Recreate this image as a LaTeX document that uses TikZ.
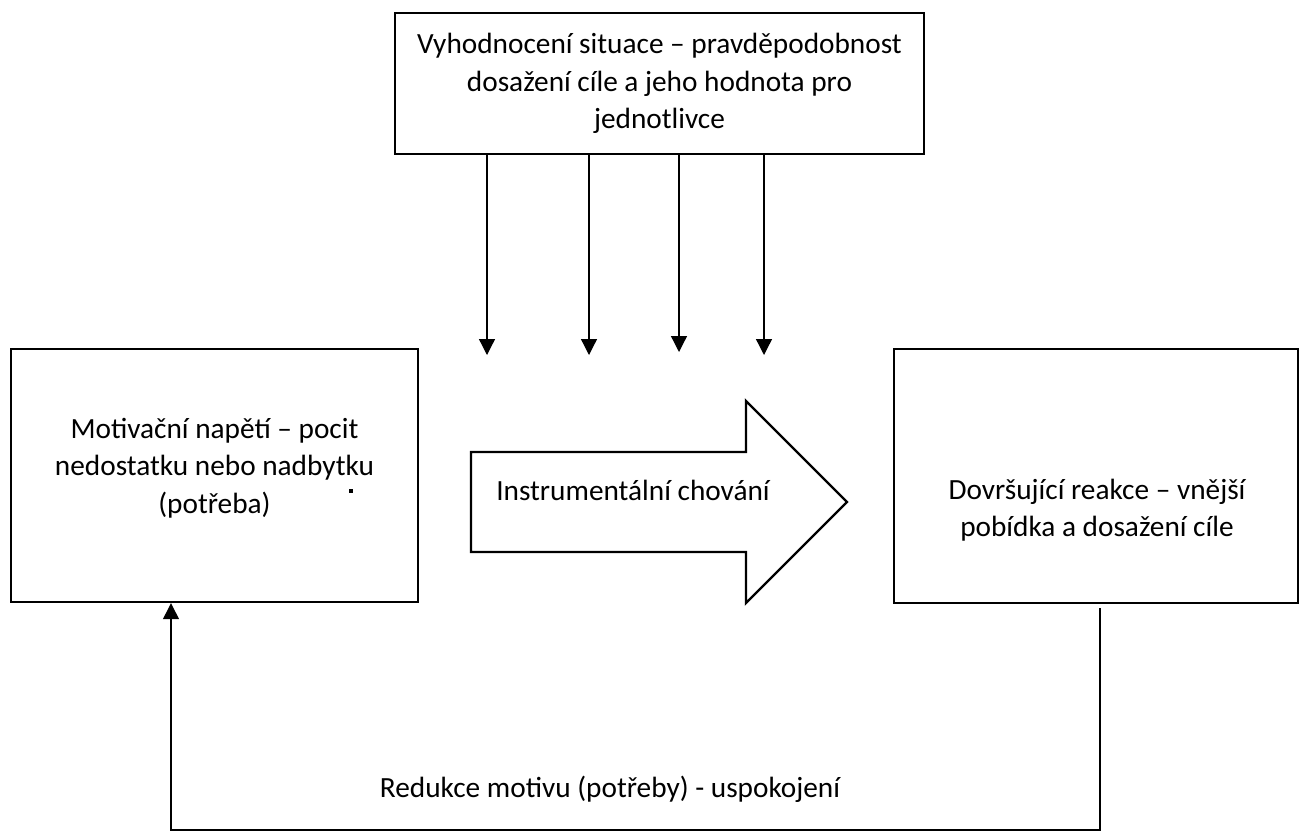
\documentclass[tikz,border=0pt]{standalone}
\usepackage{fontspec}
\setmainfont{Carlito}
\usetikzlibrary{arrows.meta}
\begin{document}
\begin{tikzpicture}[x=1pt,y=-1pt,
  box/.style={draw,line width=2.4pt,inner sep=0pt},
  lbl/.style={font=\fontsize{29.3}{37.5}\selectfont,align=center,inner sep=0pt},
  conn/.style={line width=1.3pt,-{Triangle[width=16pt,length=16pt]}}]
\useasboundingbox (0,0) rectangle (1307,833);
% top box
\node[box,lbl,minimum width=529pt,minimum height=141pt] (top) at (659.5,83.5)
  {Vyhodnocení situace – pravděpodobnost\\dosažení cíle a jeho hodnota pro\\jednotlivce};
% left box
\node[box,minimum width=407pt,minimum height=253pt] (mot) at (214.5,475.5) {};
\node[lbl] (motT) at (214.5,468) {Motivační napětí – pocit\\nedostatku nebo nadbytku\\(potřeba)};
\fill (349,489) rectangle (353,493);
% right box
\node[box,minimum width=404pt,minimum height=254pt] (dov) at (1096,476) {};
\node[lbl] (dovT) at (1097,510) {Dovršující reakce – vnější\\pobídka a dosažení cíle};
% big arrow
\draw[line width=2.4pt,line join=miter] (471,452) -- (746,452) -- (746,401) -- (847,502)
  -- (746,603) -- (746,552) -- (471,552) -- cycle;
\node[lbl] (instr) at (633,490) {Instrumentální chování};
% arrows from top box
\coordinate (a1) at (487,355);
\coordinate (a2) at (589,355);
\coordinate (a3) at (679,352);
\coordinate (a4) at (764,355);
\draw[conn] (top.south -| a1) -- (a1);
\draw[conn] (top.south -| a2) -- (a2);
\draw[conn] (top.south -| a3) -- (a3);
\draw[conn] (top.south -| a4) -- (a4);
% feedback loop
\coordinate (fbs) at (1100,608);
\coordinate (fbc) at (171,830);
\draw[conn] (fbs) |- (fbc) -- (mot.south -| fbc);
\node[lbl] (red) at (610,789) {Redukce motivu (potřeby) - uspokojení};
\end{tikzpicture}
\end{document}
